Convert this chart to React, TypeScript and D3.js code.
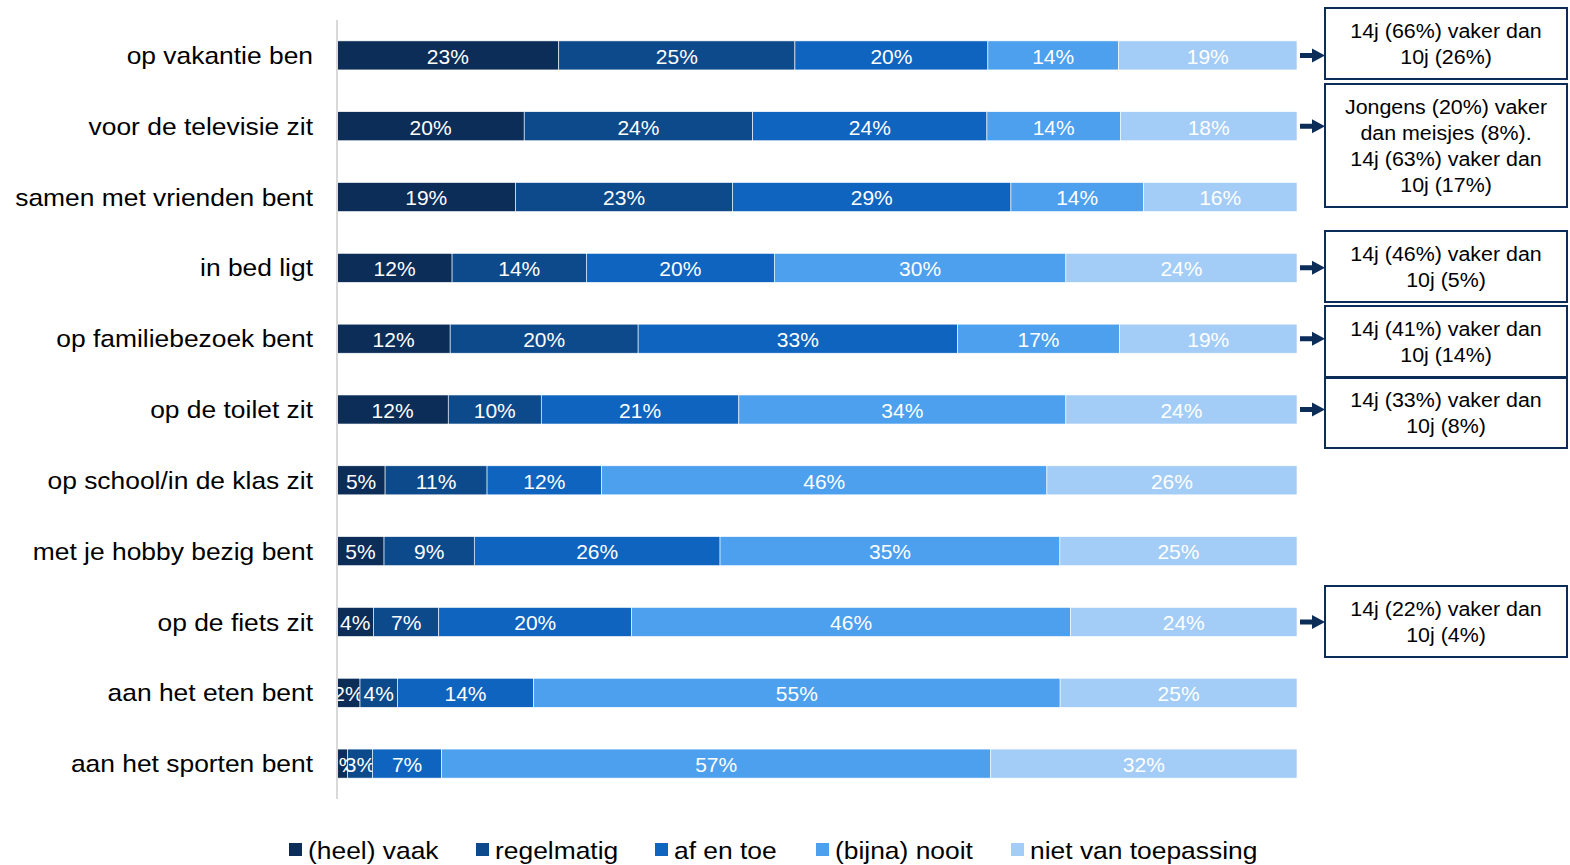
import React from "react";
import * as d3 from "d3";

const categories = [
  "op vakantie ben",
  "voor de televisie zit",
  "samen met vrienden bent",
  "in bed ligt",
  "op familiebezoek bent",
  "op de toilet zit",
  "op school/in de klas zit",
  "met je hobby bezig bent",
  "op de fiets zit",
  "aan het eten bent",
  "aan het sporten bent",
];
const seriesNames = ["(heel) vaak", "regelmatig", "af en toe", "(bijna) nooit", "niet van toepassing"];
// values (%) estimated from the bar segment widths; labels show rounded values
const heelVaak = [23.1, 19.5, 18.6, 12.0, 11.8, 11.6, 5.0, 4.9, 3.8, 2.4, 1.1];
const regelmatig = [24.6, 23.8, 22.6, 14.0, 19.6, 9.7, 10.6, 9.4, 6.8, 3.9, 2.6];
const afEnToe = [20.1, 24.4, 29.0, 19.6, 33.3, 20.6, 11.9, 25.6, 20.1, 14.2, 7.2];
const bijnaNooit = [13.6, 13.9, 13.8, 30.4, 16.9, 34.1, 46.3, 35.4, 45.7, 54.9, 57.2];
const nietVanToepassing = [18.6, 18.4, 16.0, 24.1, 18.5, 24.1, 26.0, 24.7, 23.6, 24.7, 31.9];
const colors = ["#0b2d57", "#0c4a8b", "#0e64bf", "#4ca0ee", "#a3cdf6"];

const annotations = [
  { row: 0, top: 8, bottom: 79, lines: ["14j (66%) vaker dan", "10j (26%)"] },
  { row: 1, top: 84, bottom: 207, lines: ["Jongens (20%) vaker", "dan meisjes (8%).", "14j (63%) vaker dan", "10j (17%)"] },
  { row: 3, top: 231, bottom: 302, lines: ["14j (46%) vaker dan", "10j (5%)"] },
  { row: 4, top: 306, bottom: 377, lines: ["14j (41%) vaker dan", "10j (14%)"] },
  { row: 5, top: 378, bottom: 448, lines: ["14j (33%) vaker dan", "10j (8%)"] },
  { row: 8, top: 586, bottom: 657, lines: ["14j (22%) vaker dan", "10j (4%)"] },
];

const legendX = [289, 476, 655, 816, 1011];

function SText(props: { x: number; y: number; sx: number; size: number; anchor: string; fill: string; children: React.ReactNode }) {
  const { x, y, sx, size, anchor, fill, children } = props;
  return (
    <text transform={`translate(${x},${y}) scale(${sx},1)`} textAnchor={anchor as any} dominantBaseline="central" fontSize={size} fill={fill}>
      {children}
    </text>
  );
}

export default function App() {
  const W = 1570, H = 865;
  const x0 = 337, x1 = 1297;
  const series = [heelVaak, regelmatig, afEnToe, bijnaNooit, nietVanToepassing];
  const y = d3.scaleBand<string>().domain(categories).range([20, 799]).paddingInner(0.59).paddingOuter(0.295);
  const font = "Liberation Sans, Arial, sans-serif";
  return (
    <svg width={W} height={H} style={{ position: "absolute", left: 0, top: 0 }} fontFamily={font}>
      <rect width={W} height={H} fill="#fff" />
      {categories.map((c, i) => {
        const vals = series.map((s) => s[i]);
        const total = d3.sum(vals);
        const xs = d3.scaleLinear().domain([0, total]).range([x0, x1]);
        let cum = 0;
        const y0 = y(c)!;
        const bh = y.bandwidth();
        return (
          <g key={c}>
            <SText x={313} y={y0 + bh / 2} sx={1.1} size={24} anchor="end" fill="#000">{c}</SText>
            {vals.map((v, k) => {
              const a = xs(cum);
              cum += v;
              const b = xs(cum);
              return (
                <g key={k}>
                  <rect x={a} y={y0} width={b - a} height={bh} fill={colors[k]} stroke="#fff" strokeWidth={0.6} />
                  <SText x={(a + b) / 2} y={y0 + bh / 2 + 1} sx={1.05} size={20} anchor="middle" fill="#fff">{Math.round(v)}%</SText>
                </g>
              );
            })}
          </g>
        );
      })}
      <line x1={x0} x2={x0} y1={20} y2={799} stroke="#d9d9d9" strokeWidth={2} />
      {annotations.map((an, i) => {
        const cy = y(categories[an.row])! + y.bandwidth() / 2;
        const mid = (an.top + an.bottom) / 2;
        const lh = 26;
        const startY = mid - ((an.lines.length - 1) * lh) / 2;
        return (
          <g key={i}>
            <path
              d={`M1300,${cy - 2.5} L1312,${cy - 2.5} L1312,${cy - 7} L1325,${cy} L1312,${cy + 7} L1312,${cy + 2.5} L1300,${cy + 2.5} Z`}
              fill="#0b2d57"
            />
            <rect x={1325} y={an.top} width={242} height={an.bottom - an.top} fill="#fff" stroke="#0b2d57" strokeWidth={2} />
            {an.lines.map((l, j) => (
              <SText key={j} x={1446} y={startY + j * lh} sx={1.07} size={20} anchor="middle" fill="#000">{l}</SText>
            ))}
          </g>
        );
      })}
      {seriesNames.map((n, k) => (
        <g key={n}>
          <rect x={legendX[k]} y={843} width={13} height={13} fill={colors[k]} />
          <SText x={legendX[k] + 19} y={850} sx={1.1} size={24} anchor="start" fill="#000">{n}</SText>
        </g>
      ))}
    </svg>
  );
}
